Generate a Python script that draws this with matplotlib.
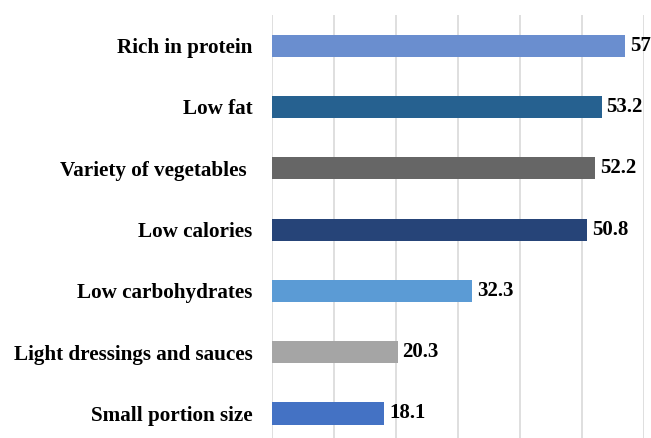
import matplotlib.pyplot as plt
import numpy as np

# data (top to bottom as shown)
categories = ['Rich in protein', 'Low fat', 'Variety of vegetables ', 'Low calories',
              'Low carbohydrates', 'Light dressings and sauces', 'Small portion size']
values = [57, 53.2, 52.2, 50.8, 32.3, 20.3, 18.1]
value_labels = ['57', '53.2', '52.2', '50.8', '32.3', '20.3', '18.1']
colors = ['#6a8ecf', '#266190', '#666666', '#264478', '#5b9bd5', '#a5a5a5', '#4472c4']

plt.rcParams['font.family'] = ['Liberation Serif', 'DejaVu Serif']

fig = plt.figure(figsize=(6.51, 4.38), dpi=100)
ax = fig.add_axes([0.4174, 0.0, 0.5714, 0.9658])

y = np.arange(len(categories))
ax.barh(y, values, height=0.36, color=colors, zorder=3)

for yi, v, lab in zip(y, values, value_labels):
    ax.text(v + 0.8, yi, lab, va='center', ha='left', fontsize=15,
            fontweight='bold', color='black', zorder=4)

ax.set_xlim(0, 60)
ax.set_ylim(6.4, -0.5)
ax.set_xticks(np.arange(0, 61, 10))
ax.set_yticks(y)
ax.set_yticklabels(categories, fontsize=15.2, fontweight='bold')
ax.tick_params(axis='y', length=0, pad=14)
ax.tick_params(axis='x', length=0, labelbottom=False)
ax.grid(axis='x', color='#d9d9d9', linewidth=1.2, zorder=0)
for s in ax.spines.values():
    s.set_visible(False)

plt.savefig('out.png', dpi=100)
plt.close()
